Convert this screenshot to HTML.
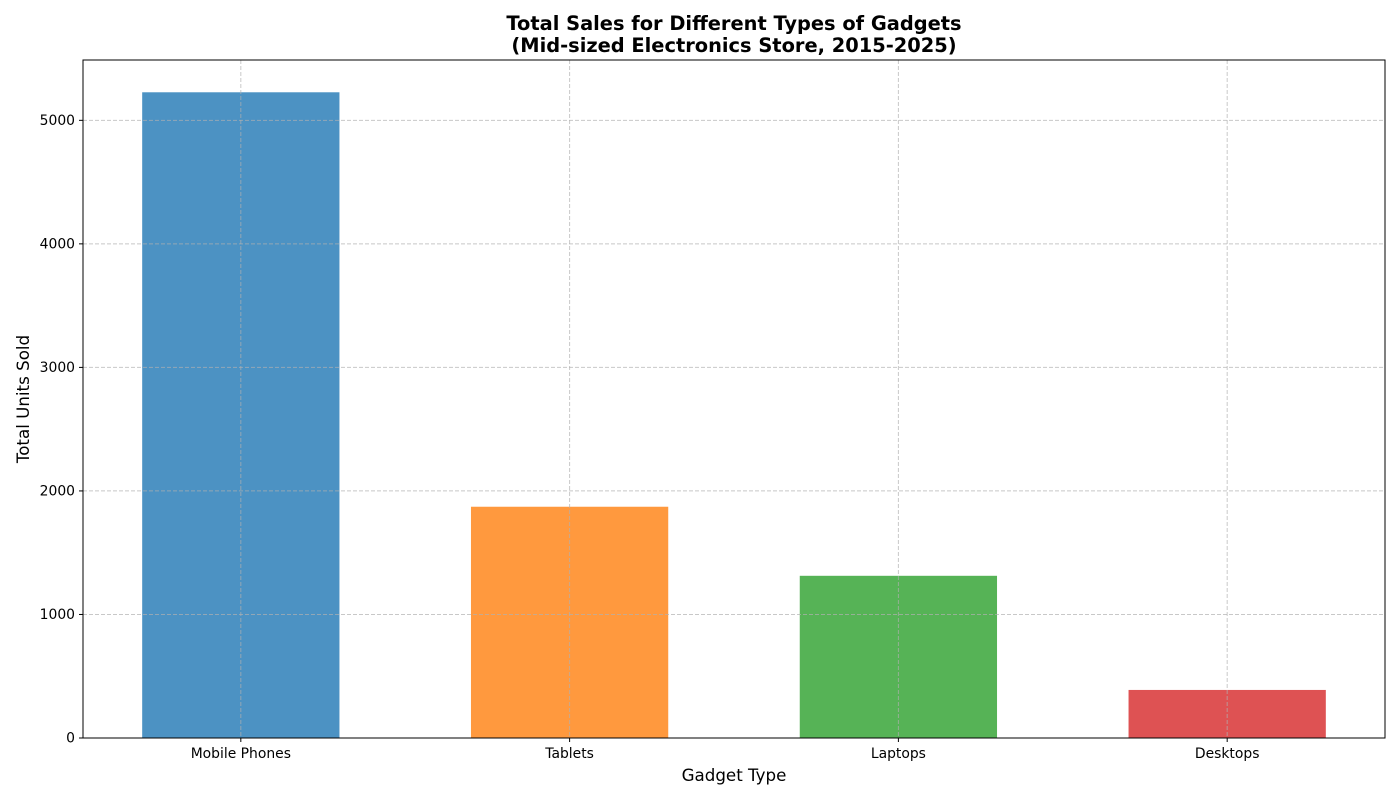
<!DOCTYPE html>
<html><head><meta charset="utf-8">
<style>
body{margin:0;background:#fff;font-family:"Liberation Sans","DejaVu Sans",sans-serif;}
svg text{font-family:"DejaVu Sans","Liberation Sans",sans-serif;}
</style></head>
<body>
<svg id="chart" width="1400" height="800" xmlns="http://www.w3.org/2000/svg">
<g id="grid"></g>
<g id="bars"></g>
<g id="gridTop"></g>
<rect x="83" y="60" width="1302" height="678" fill="none" stroke="#000" stroke-width="1"/>
<g id="yticks"></g>
<g id="xticks"></g>
<text x="734" y="30" text-anchor="middle" font-size="19.4" font-weight="bold">Total Sales for Different Types of Gadgets</text>
<text x="734" y="52" text-anchor="middle" font-size="19.4" font-weight="bold">(Mid-sized Electronics Store, 2015-2025)</text>
<text x="734" y="781" text-anchor="middle" font-size="16.7">Gadget Type</text>
<text transform="translate(29,399) rotate(-90)" text-anchor="middle" font-size="16.7">Total Units Sold</text>
</svg>
<script>
const categories = ["Mobile Phones","Tablets","Laptops","Desktops"];
const values = [5227, 1872, 1313, 389];
const colors = ["#1f77b4","#ff7f0e","#2ca02c","#d62728"];
const yTicks = [0,1000,2000,3000,4000,5000];

const L=83,R=1385,T=60,B=738;
const yMax = Math.max(...values)*1.05;
const y = v => B - v/yMax*(B-T);
const x = i => L + (i+0.48)/(categories.length-1+0.96)*(R-L);
const step = (R-L)/(categories.length-1+0.96);
const NS="http://www.w3.org/2000/svg";
function mk(tag,attrs,parent){const e=document.createElementNS(NS,tag);for(const k in attrs)e.setAttribute(k,attrs[k]);parent.appendChild(e);return e;}
const bars=document.getElementById('bars'),gt=document.getElementById('gridTop'),yt=document.getElementById('yticks'),xt=document.getElementById('xticks');
values.forEach((v,i)=>{
  const r=mk('rect',{x:x(i)-step*0.3,y:y(v),width:step*0.6,height:B-y(v),fill:colors[i],'fill-opacity':0.8},bars);
  
  
});
yTicks.forEach(t=>{
  const yy=y(t);
  const g=mk('line',{x1:L,x2:R,y1:yy,y2:yy,stroke:'#b0b0b0','stroke-opacity':0.7,'stroke-dasharray':'4,2'},gt);
  
  
  mk('line',{x1:L-4,x2:L,y1:yy,y2:yy,stroke:'#000'},yt);
  const tx=mk('text',{x:L-8,y:yy+4.5,'text-anchor':'end','font-size':13.9},yt);
  tx.textContent=t;
  
  
});
categories.forEach((c,i)=>{
  const xx=x(i);
  const g=mk('line',{x1:xx,x2:xx,y1:T,y2:B,stroke:'#b0b0b0','stroke-opacity':0.7,'stroke-dasharray':'4,2'},gt);
  
  
  mk('line',{x1:xx,x2:xx,y1:B,y2:B+4,stroke:'#000'},xt);
  const tx=mk('text',{x:xx,y:B+20,'text-anchor':'middle','font-size':13.9},xt);
  tx.textContent=c;
  
  
});
</script>
</body></html>
